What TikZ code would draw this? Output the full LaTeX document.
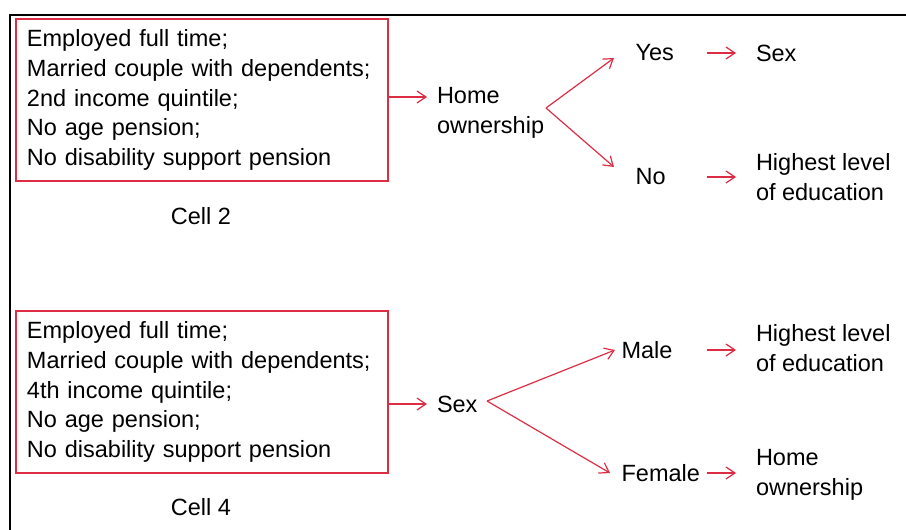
\documentclass[tikz,border=0pt]{standalone}
\usepackage{fontspec}
\setmainfont{Liberation Sans}
\usepackage{tikz}
\usetikzlibrary{arrows.meta}
\definecolor{cellred}{RGB}{221,45,68}

\begin{document}
\begin{tikzpicture}[x=1pt, y=-1pt, line width=1.2pt, color=cellred,
    -{Straight Barb[length=9pt,width=12pt]},
    every node/.style={text=black,font=\fontsize{23.5}{29.8}\selectfont},
    cellbox/.style={draw=cellred,rectangle,inner xsep=10pt,align=left,
      text width=350pt,minimum width=372pt,minimum height=162pt},
    lbl/.style={anchor=west,inner sep=0pt,align=left},
    midlbl/.style={lbl,text width=#1}]
  \useasboundingbox (0,0) rectangle (906,530);
  \path[draw,-,black,line width=2pt] (10,530) -- (10,15) -- (906,15);

  % Cell 2
  \node [cellbox] (boxa) at (202,100) {Employed full time;\\Married couple with dependents;\\2nd income quintile;\\No age pension;\\No disability support pension};
  \node (cella) at (201,216) {Cell 2};
  \node [lbl,outer xsep=10pt] (hown) at (427,113) {Home\\ownership};
  \path ([yshift=3pt]boxa.east) edge ([yshift=3pt]boxa.east -| hown.west);

  \coordinate (hsplit) at (546,108);
  \node [midlbl=71pt] (yes) at (635,53) {Yes};
  \node [midlbl=71pt] (no) at (635,177) {No};
  \path (hsplit) edge ([xshift=-21pt,yshift=-5pt]yes.west);
  \path (hsplit) edge ([xshift=-21pt,yshift=10pt]no.west);

  \node [lbl,outer xsep=20pt] (sexa) at (736,53) {Sex};
  \node [lbl,outer xsep=20pt] (hlea) at (736,177) {Highest level\\of education};
  \path (yes.east) edge (yes.east -| sexa.west);
  \path (no.east) edge (no.east -| hlea.west);

  % Cell 4
  \node [cellbox] (boxb) at (202,392) {Employed full time;\\Married couple with dependents;\\4th income quintile;\\No age pension;\\No disability support pension};
  \node (cellb) at (201,507) {Cell 4};
  \node [lbl,outer xsep=10pt] (sexb) at (427,404) {Sex};
  \path (sexb.west -| boxb.east) edge (sexb.west);

  \coordinate (ssplit) at (487,401);
  \node [midlbl=85pt] (male) at (621,350) {Male};
  \node [midlbl=85pt] (female) at (621,473) {Female};
  \path (ssplit) edge ([xshift=-6pt]male.west);
  \path (ssplit) edge ([xshift=-11pt]female.west);

  \node [lbl,outer xsep=20pt] (hleb) at (736,348) {Highest level\\of education};
  \node [lbl,outer xsep=20pt] (howb) at (736,475) {Home\\ownership};
  \path (male.east) edge (male.east -| hleb.west);
  \path (female.east) edge (female.east -| howb.west);

\end{tikzpicture}
\end{document}
